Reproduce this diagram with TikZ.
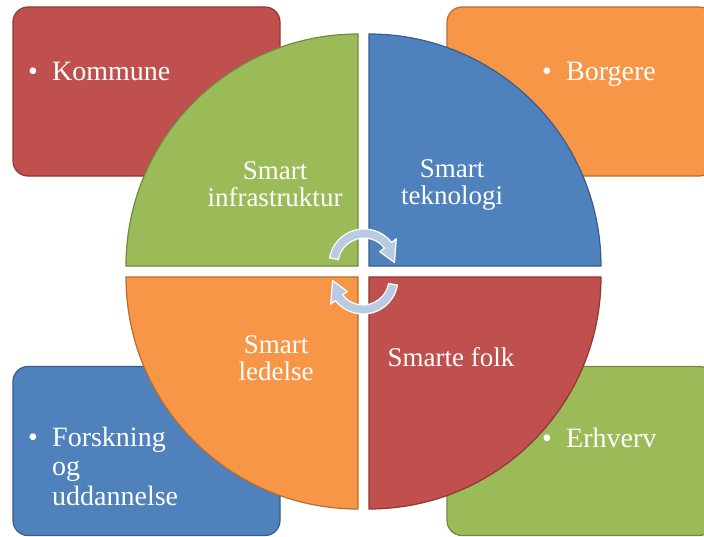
\documentclass[tikz,border=0pt]{standalone}
\usepackage{fontspec}
\setmainfont{Liberation Serif}
\usetikzlibrary{positioning,calc}

\definecolor{offred}{HTML}{C0504D}
\definecolor{offredline}{HTML}{8C3836}
\definecolor{offblue}{HTML}{4F81BD}
\definecolor{offblueline}{HTML}{385D8A}
\definecolor{offgreen}{HTML}{9BBB59}
\definecolor{offgreenline}{HTML}{71893F}
\definecolor{offorange}{HTML}{F79646}
\definecolor{offorangeline}{HTML}{B66D31}
\definecolor{arrowfill}{HTML}{B9CAE3}

\tikzset{
  group/.style={rounded corners=15pt, minimum width=267pt, minimum height=169pt, line width=1.2pt, inner sep=0pt},
  grouptext/.style={text=white, font=\fontsize{28}{29.5}\selectfont, align=left, anchor=base west, inner sep=0pt},
  quarter/.style={line width=1.2pt},
  quartertext/.style={text=white, font=\fontsize{27}{27}\selectfont, align=center},
  cyclearrow/.style={fill=arrowfill, draw=white, line width=1.2pt, line join=round}
}
\newcommand{\bul}{\makebox[24pt][l]{\textbullet}}

\begin{document}
\begin{tikzpicture}[x=1pt, y=1pt]
      \clip (0,0) rectangle (704,-536);
      \fill[white] (0,0) rectangle (704,-536);

      % groups
      \node[group, fill=offred, draw=offredline] (kommune) at (146.5,-91.5) {};
      \node[group, fill=offorange, draw=offorangeline] (borgere) at (580.5,-91.5) {};
      \node[group, fill=offblue, draw=offblueline] (forskning) at (146.5,-451) {};
      \node[group, fill=offgreen, draw=offgreenline] (erhverv) at (580.5,-451) {};

      \node[grouptext] (kommune_text) at (28,-80) {\bul Kommune};
      \node[grouptext] (borgere_text) at (542,-80) {\bul Borgere};
      \node[grouptext] (forskning_text) at (28,-505) {\bul Forskning\\\hspace*{24pt}og\\\hspace*{24pt}uddannelse};
      \node[grouptext] (erhverv_text) at (542,-447) {\bul Erhverv};

      % quarters
      \coordinate (c_infra) at (358,-266);
      \coordinate (c_tek) at (369,-266);
      \coordinate (c_led) at (358,-277);
      \coordinate (c_folk) at (369,-277);

      \filldraw[quarter, fill=offgreen, draw=offgreenline] (c_infra) -- ++(-232,0) arc[start angle=180, end angle=90, radius=232] -- cycle;
      \filldraw[quarter, fill=offblue, draw=offblueline] (c_tek) -- ++(0,232) arc[start angle=90, end angle=0, radius=232] -- cycle;
      \filldraw[quarter, fill=offorange, draw=offorangeline] (c_led) -- ++(0,-232) arc[start angle=270, end angle=180, radius=232] -- cycle;
      \filldraw[quarter, fill=offred, draw=offredline] (c_folk) -- ++(232,0) arc[start angle=0, end angle=-90, radius=232] -- cycle;

      \node[quartertext] (infra) at (275,-184.5) {Smart\\infrastruktur};
      \node[quartertext] (tek) at (452,-184.5) {Smart\\teknologi};
      \node[quartertext] (led) at (276,-358) {Smart\\ledelse};
      \node[quartertext] (folk) at (451,-357) {Smarte folk};

      % cycle arrows
      \coordinate (c_top) at (364,-264);
      \coordinate (c_bot) at (363,-279);
      \foreach \c/\r in {c_top/0, c_bot/180}{
        \filldraw[cyclearrow] ([shift={(170+\r:35)}]\c) arc[start angle=170+\r, end angle=38+\r, radius=35]
          -- ([shift={(38+\r:41)}]\c) -- ([shift={(3+\r:30.5)}]\c) -- ([shift={(38+\r:20)}]\c)
          -- ([shift={(38+\r:26)}]\c) arc[start angle=38+\r, end angle=170+\r, radius=26] -- cycle;
      }
\end{tikzpicture}
\end{document}
